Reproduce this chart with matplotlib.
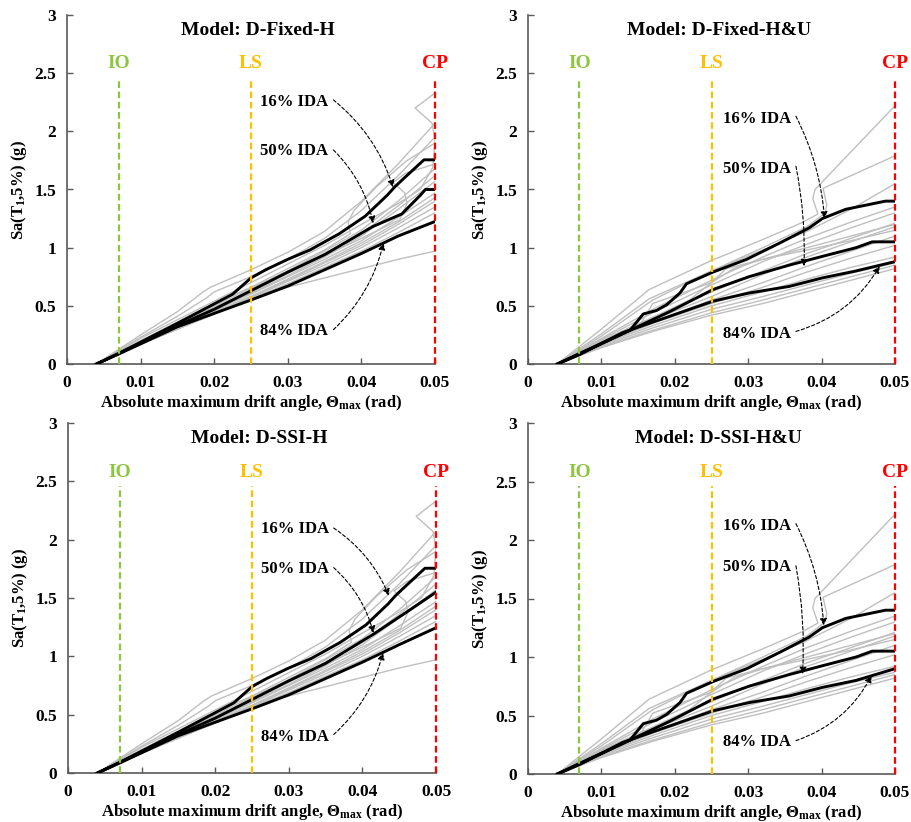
import matplotlib
matplotlib.use("Agg")
import matplotlib.pyplot as plt
from matplotlib.ticker import FixedLocator, FixedFormatter

plt.rcParams['font.family'] = ['Liberation Serif', 'DejaVu Serif']
plt.rcParams['font.weight'] = 'bold'
plt.rcParams['mathtext.fontset'] = 'custom'
plt.rcParams['mathtext.rm'] = 'Liberation Serif:bold'
plt.rcParams['mathtext.it'] = 'Liberation Serif:bold'
plt.rcParams['mathtext.bf'] = 'Liberation Serif:bold'

# ---------------- data ----------------
PANEL_TITLES = ["Model: D-Fixed-H", "Model: D-Fixed-H&U", "Model: D-SSI-H", "Model: D-SSI-H&U"]
X_TICKS = [0, 0.01, 0.02, 0.03, 0.04, 0.05]
X_TICK_LABELS = ["0", "0.01", "0.02", "0.03", "0.04", "0.05"]
Y_TICKS = [0, 0.5, 1, 1.5, 2, 2.5, 3]
Y_TICK_LABELS = ["0", "0.5", "1", "1.5", "2", "2.5", "3"]
LIMIT_NAMES = ["IO", "LS", "CP"]
LIMIT_DRIFTS = [0.007, 0.025, 0.05]
LIMIT_COLORS = ["#8cc63f", "#ffc000", "#ff0000"]
IDA_LABELS = ["16% IDA", "50% IDA", "84% IDA"]

# Gray individual IDA curves, H models
H_GRAY_X = [
    [0.004, 0.01, 0.015, 0.0185, 0.0195, 0.025, 0.03, 0.035, 0.04, 0.045, 0.05],
    [0.004, 0.01, 0.015, 0.019, 0.020, 0.025, 0.03, 0.035, 0.04, 0.045, 0.05],
    [0.004, 0.01, 0.015, 0.02, 0.025, 0.03, 0.035, 0.04, 0.045, 0.048, 0.0497, 0.05, 0.0496, 0.0473, 0.05],
    [0.004, 0.01, 0.015, 0.02, 0.025, 0.03, 0.035, 0.0385, 0.0382, 0.039, 0.042, 0.046, 0.05],
    [0.004, 0.01, 0.015, 0.02, 0.025, 0.03, 0.035, 0.04, 0.0452, 0.0462, 0.0459, 0.0443, 0.046, 0.05],
    [0.004, 0.01, 0.015, 0.02, 0.025, 0.03, 0.035, 0.04, 0.045, 0.05],
    [0.004, 0.01, 0.015, 0.02, 0.025, 0.03, 0.035, 0.04, 0.045, 0.05],
    [0.004, 0.01, 0.015, 0.02, 0.025, 0.03, 0.035, 0.04, 0.045, 0.05],
    [0.004, 0.01, 0.015, 0.02, 0.025, 0.03, 0.035, 0.04, 0.045, 0.05],
    [0.004, 0.01, 0.015, 0.02, 0.025, 0.03, 0.035, 0.04, 0.045, 0.05],
    [0.004, 0.01, 0.015, 0.02, 0.025, 0.03, 0.035, 0.04, 0.045, 0.05],
    [0.004, 0.01, 0.015, 0.02, 0.025, 0.03, 0.035, 0.04, 0.045, 0.05],
    [0.004, 0.01, 0.015, 0.02, 0.025, 0.03, 0.035, 0.04, 0.045, 0.05],
    [0.004, 0.01, 0.015, 0.02, 0.025, 0.03, 0.035, 0.04, 0.045, 0.05],
]
H_GRAY_Y = [
    [0, 0.25, 0.45, 0.62, 0.66, 0.81, 0.96, 1.14, 1.40, 1.72, 2.07],
    [0, 0.23, 0.41, 0.57, 0.62, 0.75, 0.90, 1.08, 1.32, 1.62, 1.95],
    [0, 0.22, 0.38, 0.54, 0.70, 0.86, 1.02, 1.20, 1.38, 1.50, 1.69, 1.92, 2.07, 2.20, 2.33],
    [0, 0.20, 0.36, 0.52, 0.66, 0.82, 0.98, 1.12, 1.22, 1.32, 1.52, 1.74, 1.90],
    [0, 0.19, 0.34, 0.49, 0.63, 0.78, 0.93, 1.08, 1.24, 1.38, 1.47, 1.56, 1.64, 1.72],
    [0, 0.20, 0.35, 0.50, 0.65, 0.80, 0.97, 1.15, 1.40, 1.68],
    [0, 0.19, 0.34, 0.48, 0.62, 0.78, 0.95, 1.12, 1.36, 1.62],
    [0, 0.19, 0.33, 0.47, 0.61, 0.76, 0.92, 1.10, 1.33, 1.57],
    [0, 0.18, 0.32, 0.46, 0.60, 0.75, 0.90, 1.06, 1.26, 1.47],
    [0, 0.18, 0.31, 0.45, 0.58, 0.73, 0.88, 1.04, 1.22, 1.43],
    [0, 0.17, 0.31, 0.44, 0.58, 0.72, 0.87, 1.02, 1.20, 1.40],
    [0, 0.17, 0.30, 0.43, 0.57, 0.71, 0.85, 1.00, 1.17, 1.35],
    [0, 0.17, 0.30, 0.43, 0.56, 0.69, 0.83, 0.97, 1.13, 1.30],
    [0, 0.17, 0.30, 0.43, 0.57, 0.66, 0.74, 0.82, 0.90, 0.97],
]

# Gray individual IDA curves, H&U models
HU_GRAY_X = [
    [0.004, 0.010, 0.0165, 0.025, 0.032, 0.0375, 0.0395, 0.0388, 0.0391, 0.05],
    [0.004, 0.010, 0.0165, 0.025, 0.032, 0.038, 0.0405, 0.0407, 0.0402, 0.05],
    [0.004, 0.01, 0.017, 0.025, 0.032, 0.038, 0.044, 0.05],
    [0.004, 0.01, 0.017, 0.025, 0.032, 0.038, 0.044, 0.05],
    [0.004, 0.01, 0.017, 0.025, 0.032, 0.038, 0.044, 0.05],
    [0.004, 0.01, 0.017, 0.025, 0.032, 0.038, 0.044, 0.05],
    [0.004, 0.01, 0.017, 0.025, 0.032, 0.038, 0.044, 0.05],
    [0.004, 0.01, 0.017, 0.022, 0.025, 0.027, 0.032, 0.038, 0.044, 0.05],
    [0.004, 0.01, 0.017, 0.025, 0.032, 0.038, 0.044, 0.05],
    [0.004, 0.01, 0.017, 0.025, 0.032, 0.038, 0.044, 0.05],
    [0.004, 0.01, 0.017, 0.025, 0.032, 0.038, 0.044, 0.05],
    [0.004, 0.01, 0.017, 0.025, 0.032, 0.038, 0.044, 0.05],
    [0.004, 0.01, 0.017, 0.025, 0.032, 0.038, 0.044, 0.05],
    [0.004, 0.01, 0.017, 0.025, 0.032, 0.038, 0.044, 0.05],
    [0.004, 0.01, 0.0155, 0.017, 0.025, 0.028, 0.032, 0.038, 0.044, 0.05],
]
HU_GRAY_Y = [
    [0, 0.30, 0.64, 0.89, 1.07, 1.22, 1.29, 1.42, 1.50, 2.22],
    [0, 0.26, 0.56, 0.80, 1.00, 1.18, 1.30, 1.37, 1.51, 1.79],
    [0, 0.24, 0.55, 0.80, 0.98, 1.14, 1.33, 1.55],
    [0, 0.22, 0.47, 0.72, 0.92, 1.08, 1.22, 1.35],
    [0, 0.21, 0.44, 0.68, 0.88, 1.03, 1.17, 1.30],
    [0, 0.20, 0.40, 0.62, 0.80, 0.95, 1.08, 1.21],
    [0, 0.19, 0.38, 0.58, 0.77, 0.92, 1.05, 1.18],
    [0, 0.20, 0.40, 0.55, 0.70, 0.82, 0.90, 0.98, 1.06, 1.15],
    [0, 0.18, 0.36, 0.55, 0.70, 0.84, 0.97, 1.10],
    [0, 0.17, 0.35, 0.52, 0.66, 0.79, 0.91, 1.02],
    [0, 0.17, 0.33, 0.50, 0.62, 0.73, 0.83, 0.92],
    [0, 0.16, 0.31, 0.47, 0.58, 0.68, 0.78, 0.87],
    [0, 0.15, 0.29, 0.44, 0.55, 0.65, 0.75, 0.85],
    [0, 0.14, 0.28, 0.42, 0.52, 0.62, 0.72, 0.82],
    [0, 0.20, 0.36, 0.52, 0.70, 0.82, 0.90, 1.00, 1.10, 1.20],
]

# Black percentile curves (16%, 50%, 84%)
H_FIXED_P16_X = [0.004, 0.007, 0.015, 0.0225, 0.025, 0.027, 0.030, 0.033, 0.035, 0.037, 0.0405, 0.0435, 0.0445, 0.0455, 0.0485, 0.05]
H_FIXED_P16_Y = [0, 0.09, 0.35, 0.60, 0.74, 0.81, 0.90, 0.98, 1.05, 1.12, 1.27, 1.45, 1.52, 1.58, 1.755, 1.755]
H_FIXED_P50_X = [0.004, 0.007, 0.015, 0.02, 0.025, 0.03, 0.035, 0.0415, 0.0455, 0.048, 0.0487, 0.05]
H_FIXED_P50_Y = [0, 0.09, 0.33, 0.47, 0.63, 0.79, 0.94, 1.18, 1.29, 1.45, 1.50, 1.50]
H_FIXED_P84_X = [0.004, 0.007, 0.015, 0.025, 0.03, 0.035, 0.04, 0.045, 0.05]
H_FIXED_P84_Y = [0, 0.085, 0.32, 0.55, 0.67, 0.81, 0.95, 1.10, 1.225]

HU_FIXED_P16_X = [0.004, 0.007, 0.0139, 0.0157, 0.0175, 0.0189, 0.0207, 0.0216, 0.0252, 0.0298, 0.0343, 0.0383, 0.0401, 0.0433, 0.0487, 0.05]
HU_FIXED_P16_Y = [0, 0.09, 0.29, 0.43, 0.46, 0.51, 0.61, 0.69, 0.79, 0.90, 1.04, 1.17, 1.25, 1.33, 1.40, 1.40]
HU_FIXED_P50_X = [0.004, 0.007, 0.0193, 0.0252, 0.0301, 0.0356, 0.0401, 0.0447, 0.0469, 0.05]
HU_FIXED_P50_Y = [0, 0.085, 0.45, 0.64, 0.75, 0.85, 0.925, 1.0, 1.05, 1.05]
HU_FIXED_P84_X = [0.004, 0.007, 0.0129, 0.0193, 0.0252, 0.0301, 0.0356, 0.0401, 0.0447, 0.05]
HU_FIXED_P84_Y = [0, 0.08, 0.27, 0.41, 0.54, 0.61, 0.667, 0.74, 0.80, 0.88]

H_SSI_P16_X = H_FIXED_P16_X
H_SSI_P16_Y = [0, 0.09, 0.35, 0.60, 0.74, 0.81, 0.90, 0.98, 1.05, 1.12, 1.27, 1.45, 1.52, 1.58, 1.755, 1.755]
H_SSI_P50_X = [0.004, 0.007, 0.015, 0.02, 0.025, 0.03, 0.035, 0.0415, 0.0465, 0.05]
H_SSI_P50_Y = [0, 0.09, 0.33, 0.47, 0.63, 0.79, 0.94, 1.19, 1.40, 1.55]
H_SSI_P84_X = H_FIXED_P84_X
H_SSI_P84_Y = [0, 0.085, 0.32, 0.55, 0.67, 0.81, 0.95, 1.10, 1.245]

HU_SSI_P16_X = HU_FIXED_P16_X
HU_SSI_P16_Y = [0, 0.09, 0.29, 0.43, 0.46, 0.51, 0.61, 0.69, 0.79, 0.90, 1.04, 1.17, 1.25, 1.33, 1.40, 1.40]
HU_SSI_P50_X = [0.004, 0.007, 0.0193, 0.0252, 0.0301, 0.0356, 0.0401, 0.0447, 0.0469, 0.05]
HU_SSI_P50_Y = [0, 0.085, 0.45, 0.64, 0.75, 0.85, 0.925, 1.0, 1.05, 1.05]
HU_SSI_P84_X = HU_FIXED_P84_X
HU_SSI_P84_Y = [0, 0.08, 0.27, 0.41, 0.54, 0.61, 0.667, 0.74, 0.80, 0.90]

# Annotation anchors per panel: label y, arrow start (x, y), arrow end (x, y)
ANNOT_TEXT_X = [0.0355, 0.0358, 0.0355, 0.0358]
ANNOT_LABEL_Y = [[2.25, 1.83, 0.28], [2.11, 1.68, 0.26], [2.09, 1.75, 0.31], [2.12, 1.77, 0.27]]
ANNOT_START = [
    [(0.0362, 2.27), (0.0362, 1.84), (0.0362, 0.295)],
    [(0.0365, 2.13), (0.0365, 1.70), (0.0365, 0.28)],
    [(0.0361, 2.10), (0.0361, 1.76), (0.0361, 0.33)],
    [(0.0365, 2.14), (0.0365, 1.78), (0.0365, 0.285)],
]
ANNOT_END = [
    [(0.0443, 1.52), (0.0416, 1.21), (0.0430, 1.04)],
    [(0.0404, 1.25), (0.0376, 0.84), (0.0479, 0.84)],
    [(0.0436, 1.52), (0.0415, 1.20), (0.0428, 1.03)],
    [(0.0403, 1.27), (0.0374, 0.855), (0.0468, 0.84)],
]
ANNOT_RAD = [
    [-0.15, -0.15, 0.15],
    [-0.1, -0.06, 0.2],
    [-0.15, -0.15, 0.15],
    [-0.1, -0.06, 0.2],
]

PANELS = [
    (H_GRAY_X, H_GRAY_Y, [(H_FIXED_P16_X, H_FIXED_P16_Y), (H_FIXED_P50_X, H_FIXED_P50_Y), (H_FIXED_P84_X, H_FIXED_P84_Y)]),
    (HU_GRAY_X, HU_GRAY_Y, [(HU_FIXED_P16_X, HU_FIXED_P16_Y), (HU_FIXED_P50_X, HU_FIXED_P50_Y), (HU_FIXED_P84_X, HU_FIXED_P84_Y)]),
    (H_GRAY_X, H_GRAY_Y, [(H_SSI_P16_X, H_SSI_P16_Y), (H_SSI_P50_X, H_SSI_P50_Y), (H_SSI_P84_X, H_SSI_P84_Y)]),
    (HU_GRAY_X, HU_GRAY_Y, [(HU_SSI_P16_X, HU_SSI_P16_Y), (HU_SSI_P50_X, HU_SSI_P50_Y), (HU_SSI_P84_X, HU_SSI_P84_Y)]),
]

# ---------------- figure ----------------
W, H = 912, 822
fig = plt.figure(figsize=(W / 100, H / 100), dpi=100)
# axes rectangles in pixels: left, top, right, bottom
AX_PX = [(67, 15, 435, 364), (528, 15, 895, 364), (68, 423, 436, 773), (528, 423, 895, 774)]

spine_col = "#595959"
for i, (l, t, r, b) in enumerate(AX_PX):
    ax = fig.add_axes([l / W, 1 - b / H, (r - l) / W, (b - t) / H])
    gx, gy, blacks = PANELS[i]
    for xs, ys in zip(gx, gy):
        ax.plot(xs, ys, color="#bfbfbf", lw=1.0, zorder=2)
    for xs, ys in blacks:
        ax.plot(xs, ys, color="black", lw=2.1, zorder=3, solid_joinstyle="round")
    for name, xv, col in zip(LIMIT_NAMES, LIMIT_DRIFTS, LIMIT_COLORS):
        ax.plot([xv, xv], [0, 2.46], color=col, lw=1.6, ls=(0, (3, 1.6)), zorder=4, clip_on=False)
        ax.text(xv, 2.58, name, color=col, ha="center", va="center", fontsize=14, fontweight="bold")
    ax.text(0.026, 2.87, PANEL_TITLES[i], ha="center", va="center", fontsize=14, fontweight="bold")
    for k in range(3):
        ax.text(ANNOT_TEXT_X[i], ANNOT_LABEL_Y[i][k], IDA_LABELS[k], ha="right", va="center",
                fontsize=12, fontweight="bold")
        ax.annotate("", xy=ANNOT_END[i][k], xytext=ANNOT_START[i][k],
                    arrowprops=dict(arrowstyle="-|>", color="black", lw=0.8, ls=(0, (3, 2)),
                                    mutation_scale=10,
                                    connectionstyle="arc3,rad=%g" % ANNOT_RAD[i][k],
                                    shrinkA=0, shrinkB=0), zorder=5)
    ax.set_xlim(0, 0.05)
    ax.set_ylim(0, 3)
    ax.xaxis.set_major_locator(FixedLocator(X_TICKS))
    ax.xaxis.set_major_formatter(FixedFormatter(X_TICK_LABELS))
    ax.yaxis.set_major_locator(FixedLocator(Y_TICKS))
    ax.yaxis.set_major_formatter(FixedFormatter(Y_TICK_LABELS))
    for s in ["top", "right"]:
        ax.spines[s].set_visible(False)
    for s in ["left", "bottom"]:
        ax.spines[s].set_color(spine_col)
        ax.spines[s].set_linewidth(1.2)
    ax.tick_params(direction="in", length=4, width=1, color=spine_col, labelsize=12.5, pad=8)
    for lab in ax.get_xticklabels() + ax.get_yticklabels():
        lab.set_fontweight("bold")
    ax.set_xlabel("Absolute maximum drift angle, \u0398$_{\\mathrm{max}}$ (rad)", fontsize=12,
                  fontweight="bold", labelpad=1)
    ax.set_ylabel("Sa(T$_{\\mathrm{1}}$,5%) (g)", fontsize=12, fontweight="bold", labelpad=4)

fig.savefig("out.png", dpi=100)
